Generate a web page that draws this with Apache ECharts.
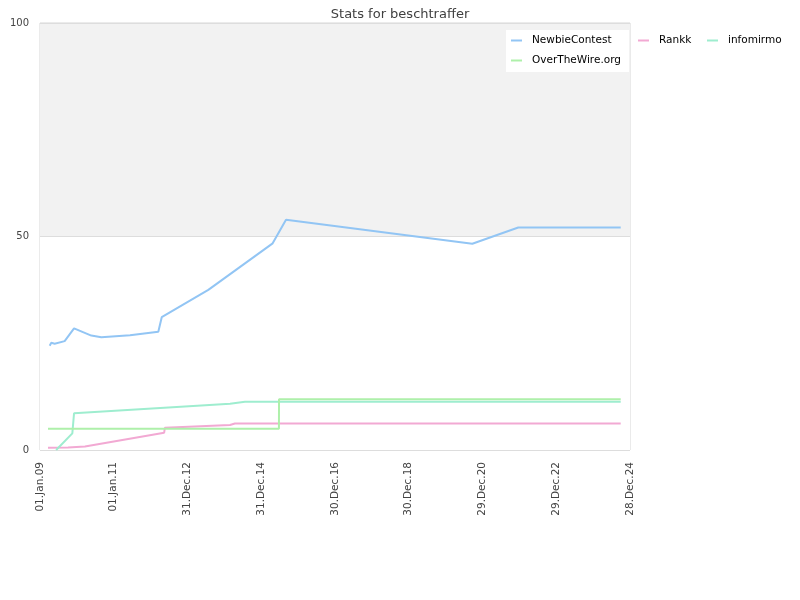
<!DOCTYPE html>
<html>
<head>
<meta charset="utf-8">
<script src="https://cdn.jsdelivr.net/npm/echarts@6/dist/echarts.min.js"></script>
<style>html,body{margin:0;padding:0;background:#fff}#c{width:800px;height:600px}</style>
</head>
<body>
<div id="c"></div>
<script>
// ---- data ----
var titleText = 'Stats for beschtraffer';
var yAxisName = 'Percentage';
var seriesNames = ['NewbieContest', 'Rankk', 'infomirmo', 'OverTheWire.org'];
var xStart = '2009-01-01';
var xEnd = '2024-12-28';
var xTickDays = 730;
var yTicks = [0, 50, 100];

var newbieDates = ['2009-04-07','2009-04-23','2009-05-26','2009-09-02','2009-12-04','2010-05-24','2010-08-31','2011-06-11','2012-03-17','2012-04-20','2013-07-25','2015-04-23','2015-09-02','2020-09-19','2021-12-18','2024-09-27'];
var newbieValues = [24.4, 25.1, 24.9, 25.5, 28.5, 26.8, 26.4, 26.9, 27.7, 31.1, 37.5, 48.4, 53.9, 48.3, 52.1, 52.1];

var rankkDates = ['2009-03-21','2009-10-05','2010-03-22','2012-05-14','2012-05-21','2014-02-25','2014-04-14','2024-09-27'];
var rankkValues = [0.5, 0.6, 0.8, 4.05, 5.2, 5.85, 6.2, 6.2];

var infomirmoDates = ['2009-06-10','2009-11-17','2009-12-04','2014-02-25','2014-07-23','2024-09-27'];
var infomirmoValues = [0.0, 3.9, 8.6, 10.85, 11.3, 11.3];

var otwDates = ['2009-03-21','2015-06-24','2015-06-25','2024-09-27'];
var otwValues = [5.0, 5.0, 11.9, 11.9];

// ---- helpers ----
var DAY = 86400000;
function toDay(s) { return Math.round((Date.parse(s + 'T00:00:00Z') - Date.parse(xStart + 'T00:00:00Z')) / DAY); }
function pairs(dates, vals) { return dates.map(function (d, i) { return [toDay(d), vals[i]]; }); }
var MON = ['Jan','Feb','Mar','Apr','May','Jun','Jul','Aug','Sep','Oct','Nov','Dec'];
function fmt(d) {
  var dt = new Date(Date.parse(xStart + 'T00:00:00Z') + d * DAY);
  var dd = ('0' + dt.getUTCDate()).slice(-2);
  var yy = ('0' + (dt.getUTCFullYear() % 100)).slice(-2);
  return dd + '.' + MON[dt.getUTCMonth()] + '.' + yy;
}

var colors = ['#92c5f4', '#f2a9d3', '#9eedcf', '#aef0aa'];
var datas = [pairs(newbieDates, newbieValues), pairs(rankkDates, rankkValues), pairs(infomirmoDates, infomirmoValues), pairs(otwDates, otwValues)];
var FONT = 'DejaVu Sans';

var legendPos = [[511, 35], [638, 35], [707, 35], [511, 55]];

var chart = echarts.init(document.getElementById('c'), null, {renderer: 'canvas'});
chart.setOption({
  animation: false,
  backgroundColor: '#ffffff',
  title: {
    text: titleText, left: 'center', top: 3,
    textStyle: {fontFamily: FONT, fontSize: 13, fontWeight: 'normal', color: '#404040'}
  },
  graphic: [{
    type: 'rect', left: 506, top: 30, z: 3, silent: true,
    shape: {width: 123, height: 42},
    style: {fill: '#ffffff'}
  }],
  legend: seriesNames.map(function (n, i) {
    return {
      data: [n], left: legendPos[i][0], top: legendPos[i][1], padding: 0,
      icon: 'rect', itemWidth: 11, itemHeight: 2, z: 4,
      textStyle: {fontFamily: FONT, fontSize: 10.5, color: '#000', padding: [0, 0, 0, 5]}
    };
  }),
  grid: {left: 40, right: 170, top: 23, bottom: 150, containLabel: false, outerBoundsMode: 'none', show: true, borderColor: '#d6d6d6', borderWidth: 1, backgroundColor: 'transparent'},
  xAxis: {
    type: 'value', min: 0, max: toDay(xEnd), interval: xTickDays,
    axisLine: {show: false}, axisTick: {show: false}, splitLine: {show: false},
    axisLabel: {rotate: 90, margin: 12, fontFamily: FONT, fontSize: 10.5, color: '#444', formatter: fmt, showMinLabel: true, showMaxLabel: true}
  },
  yAxis: {
    type: 'value', min: yTicks[0], max: yTicks[yTicks.length - 1], interval: yTicks[1] - yTicks[0],
    name: yAxisName, nameLocation: 'middle', nameGap: 27,
    nameTextStyle: {fontFamily: FONT, fontSize: 10.5, color: '#333'},
    axisLine: {show: false}, axisTick: {show: false},
    axisLabel: {fontFamily: FONT, fontSize: 10, color: '#444', margin: 11},
    splitLine: {show: true, lineStyle: {color: '#dddddd', width: 1}},
    splitArea: {show: true, areaStyle: {color: ['#ffffff', '#f2f2f2']}}
  },
  series: seriesNames.map(function (n, i) {
    return {
      name: n, type: 'line', data: datas[i], showSymbol: false, symbol: 'none',
      color: colors[i], lineStyle: {width: 2, color: colors[i]}, z: 2
    };
  })
});
</script>
</body>
</html>
